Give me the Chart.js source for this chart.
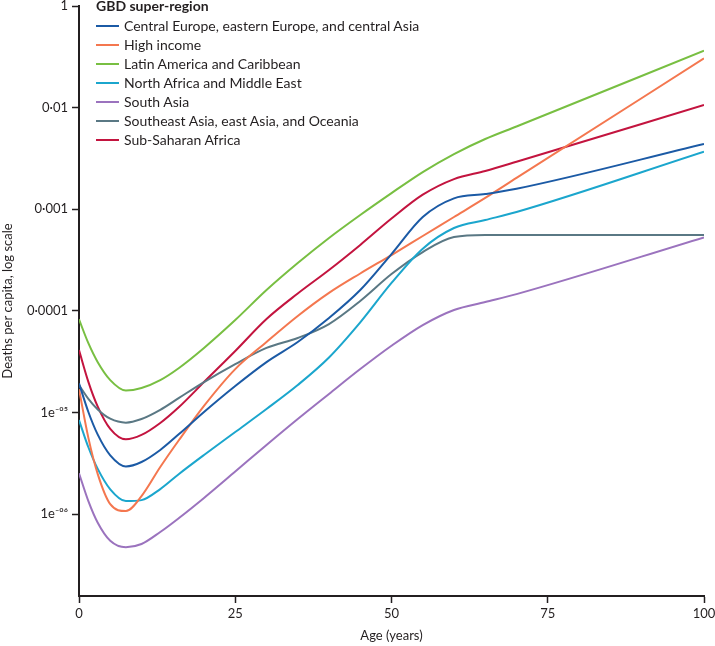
<!DOCTYPE html>
<html lang="en">
<head>
<meta charset="utf-8">
<title>Deaths per capita by age, GBD super-region</title>
<script src="https://cdn.jsdelivr.net/npm/chart.js@4.4.1/dist/chart.umd.min.js"></script>
<style>
  html, body { margin: 0; padding: 0; background: #fff; }
  #wrap { position: relative; width: 715px; height: 646px; }
  #legend {
    position: absolute; left: 96px; top: -4px;
    font-family: Lato, sans-serif; font-size: 14px; color: #231f20;
  }
  #legend .title { font-weight: bold; height: 20px; line-height: 20px; }
  #legend .row { display: flex; align-items: center; height: 19px; line-height: 19px; }
  #legend .swatch { width: 23px; height: 2px; margin-right: 5px; }
</style>
</head>
<body>
<div id="wrap">
  <canvas id="chartMortality"></canvas>
  <div id="legend"></div>
</div>
<script>
// ================================================
// Data
// ================================================

const ages = [0, 1.5, 3, 5, 7.5, 10, 13, 16, 20, 25, 30, 35, 40, 45, 50, 55, 60, 65, 70, 100];

const centralEurope = [1.93e-5, 1.01e-5, 6.04e-6, 3.78e-6, 2.94e-6, 3.25e-6, 4.27e-6, 6.12e-6, 1.01e-5, 1.82e-5, 3.13e-5, 4.93e-5, 8.49e-5, 1.60e-4, 3.62e-4, 8.38e-4, 1.28e-3, 1.41e-3, 1.59e-3, 4.39e-3];
const highIncome = [1.69e-5, 5.62e-6, 2.47e-6, 1.25e-6, 1.07e-6, 1.50e-6, 2.90e-6, 5.35e-6, 1.16e-5, 2.67e-5, 4.93e-5, 8.89e-5, 1.50e-4, 2.33e-4, 3.54e-4, 5.45e-4, 8.38e-4, 1.29e-3, 2.03e-3, 3.05e-2];
const latinAmerica = [8.24e-5, 4.80e-5, 3.12e-5, 2.08e-5, 1.64e-5, 1.74e-5, 2.08e-5, 2.74e-5, 4.31e-5, 8.11e-5, 1.60e-4, 2.95e-4, 5.21e-4, 8.77e-4, 1.44e-3, 2.32e-3, 3.49e-3, 4.91e-3, 6.52e-3, 3.63e-2];
const northAfrica = [8.41e-6, 4.54e-6, 2.78e-6, 1.75e-6, 1.34e-6, 1.37e-6, 1.76e-6, 2.48e-6, 3.81e-6, 6.41e-6, 1.08e-5, 1.86e-5, 3.47e-5, 7.69e-5, 1.88e-4, 4.09e-4, 6.53e-4, 7.83e-4, 9.38e-4, 3.68e-3];
const southAsia = [2.52e-6, 1.34e-6, 8.21e-7, 5.45e-7, 4.71e-7, 5.07e-7, 6.65e-7, 9.14e-7, 1.44e-6, 2.62e-6, 4.78e-6, 8.61e-6, 1.52e-5, 2.67e-5, 4.53e-5, 7.24e-5, 1.02e-4, 1.22e-4, 1.46e-4, 5.28e-4];
const southeastAsia = [1.86e-5, 1.36e-5, 1.07e-5, 8.67e-6, 7.93e-6, 8.61e-6, 1.06e-5, 1.39e-5, 1.99e-5, 2.99e-5, 4.31e-5, 5.40e-5, 7.41e-5, 1.25e-4, 2.30e-4, 3.79e-4, 5.32e-4, 5.57e-4, 5.57e-4, 5.57e-4];
const subSaharan = [4.11e-5, 2.00e-5, 1.14e-5, 6.88e-6, 5.43e-6, 6.00e-6, 7.87e-6, 1.13e-5, 1.99e-5, 4.02e-5, 8.30e-5, 1.48e-4, 2.52e-4, 4.45e-4, 8.09e-4, 1.39e-3, 1.98e-3, 2.38e-3, 2.93e-3, 1.06e-2];

const seriesNames = [
  'Central Europe, eastern Europe, and central Asia',
  'High income',
  'Latin America and Caribbean',
  'North Africa and Middle East',
  'South Asia',
  'Southeast Asia, east Asia, and Oceania',
  'Sub-Saharan Africa'
];
const seriesValues = [centralEurope, highIncome, latinAmerica, northAfrica, southAsia, southeastAsia, subSaharan];
const seriesColors = ['#1b5aa5', '#f4774f', '#78bf42', '#1ba6cd', '#9b73be', '#5a7884', '#c3143f'];

// the figure's top tick sits one decade above 0·01 but is printed "1"
const yTickValues = [0.1, 0.01, 0.001, 0.0001, 1e-5, 1e-6];
const yTickLabels = ['1', '0·01', '0·001', '0·0001', '1e\u207B\u2070\u2075', '1e\u207B\u2070\u2076'];
const xTickStep = 25;

const ink = '#231f20';
const axisFont = { family: 'Lato', size: 13 };

// ================================================
// Chart
// ================================================

document.addEventListener('DOMContentLoaded', function() {
  initChart();
  initLegend();
});

function initChart() {
  const ctx = document.getElementById('chartMortality');

  const datasets = seriesNames.map((name, i) => ({
    label: name,
    data: ages.map((age, j) => ({ x: age, y: seriesValues[i][j] })),
    borderColor: seriesColors[i],
    backgroundColor: seriesColors[i],
    borderWidth: 2,
    pointRadius: 0,
    cubicInterpolationMode: 'monotone',
    fill: false
  }));

  new Chart(ctx, {
    type: 'line',
    data: { datasets: datasets },
    options: {
      responsive: true,
      maintainAspectRatio: false,
      animation: false,
      layout: { padding: { left: 0, top: 6, right: 11, bottom: 0 } },
      plugins: {
        legend: { display: false },
        tooltip: { enabled: false }
      },
      scales: {
        x: {
          type: 'linear',
          min: 0,
          max: 100,
          border: { color: ink, width: 2 },
          grid: { drawOnChartArea: false, drawTicks: true, tickLength: 7, tickColor: ink, tickWidth: 1.5 },
          ticks: { stepSize: xTickStep, padding: 3, color: ink, font: axisFont, maxRotation: 0 },
          title: { display: true, text: 'Age (years)', color: ink, font: axisFont, padding: { top: 0, bottom: 2 } },
          afterFit: function(scale) {
            scale.height = 50;
            scale.paddingLeft = 0;
            scale.paddingRight = 0;
          }
        },
        y: {
          type: 'logarithmic',
          min: 1.56e-7,
          max: 0.1,
          border: { color: ink, width: 2 },
          grid: { drawOnChartArea: false, drawTicks: true, tickLength: 7, tickColor: ink, tickWidth: 1.5 },
          afterBuildTicks: function(scale) {
            scale.ticks = yTickValues.map(v => ({ value: v }));
          },
          ticks: {
            padding: 4,
            color: ink,
            font: axisFont,
            autoSkip: false,
            callback: function(value, index) {
              return yTickLabels[index];
            }
          },
          title: { display: true, text: 'Deaths per capita, log scale', color: ink, font: axisFont, padding: { top: 0, bottom: 0 } },
          afterFit: function(scale) {
            scale.width = 79;
            scale.paddingTop = 0;
            scale.paddingBottom = 0;
          }
        }
      }
    }
  });
}

// ================================================
// Legend (inside the plot, top left)
// ================================================

function initLegend() {
  const legend = document.getElementById('legend');
  const title = document.createElement('div');
  title.className = 'title';
  title.textContent = 'GBD super-region';
  legend.appendChild(title);

  seriesNames.forEach((name, i) => {
    const row = document.createElement('div');
    row.className = 'row';
    const swatch = document.createElement('span');
    swatch.className = 'swatch';
    swatch.style.background = seriesColors[i];
    const label = document.createElement('span');
    label.textContent = name;
    row.appendChild(swatch);
    row.appendChild(label);
    legend.appendChild(row);
  });
}
</script>
</body>
</html>
